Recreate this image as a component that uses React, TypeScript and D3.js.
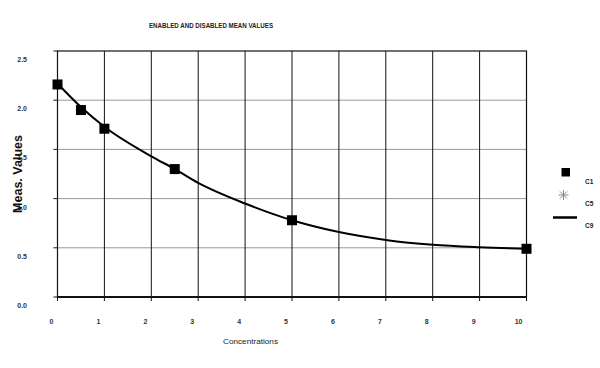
import React from 'react';
import * as d3 from 'd3';

// C1 measured points
const c1X = [0, 0.5, 1, 2.5, 5, 10];
const c1Y = [2.16, 1.9, 1.71, 1.3, 0.78, 0.49];

// C9 fitted curve
const c9X = [0, 0.5, 1, 2, 2.5, 3, 4, 5, 6, 7, 8, 9, 10];
const c9Y = [2.17, 1.93, 1.73, 1.43, 1.3, 1.16, 0.95, 0.78, 0.66, 0.58, 0.53, 0.505, 0.49];

const xTicks = [0, 1, 2, 3, 4, 5, 6, 7, 8, 9, 10];
const yTicks = [0, 0.5, 1, 1.5, 2, 2.5];
const legendItems = ['C1', 'C5', 'C9'];

const W = 600;
const H = 368;
const margin = { top: 51, right: 73.5, bottom: 71, left: 57.5 };
const font = 'Arial, "Liberation Sans", sans-serif';

const App = () => {
    const x = d3.scaleLinear().domain([0, 10]).range([margin.left, W - margin.right]);
    const y = d3.scaleLinear().domain([0, 2.5]).range([H - margin.bottom, margin.top]);

    const line = d3.line<number>()
        .x((d, i) => x(c9X[i]))
        .y(d => y(d))
        .curve(d3.curveMonotoneX);

    const x0 = x(0), x1 = x(10), y0 = y(0), y1 = y(2.5);

    const asterisk = (cx: number, cy: number, r: number) =>
        [0, 45, 90, 135].map(a => {
            const rad = (a * Math.PI) / 180;
            return (
                <line key={a}
                    x1={cx - r * Math.cos(rad)} y1={cy - r * Math.sin(rad)}
                    x2={cx + r * Math.cos(rad)} y2={cy + r * Math.sin(rad)}
                    stroke="#888" strokeWidth={1} />
            );
        });

    return (
        <svg width={W} height={H} style={{ position: 'absolute', left: 0, top: 0, background: '#fff' }}
            fontFamily={font}>
            <rect width={W} height={H} fill="#fff" />

            {/* horizontal grid */}
            {yTicks.filter(t => t > 0 && t < 2.5).map(t => (
                <line key={'h' + t} x1={x0} x2={x1} y1={y(t)} y2={y(t)} stroke="#999" strokeWidth={1} />
            ))}
            {/* vertical grid */}
            {xTicks.filter(t => t > 0 && t < 10).map(t => (
                <line key={'v' + t} x1={x(t)} x2={x(t)} y1={y1} y2={y0} stroke="#111" strokeWidth={1} />
            ))}

            {/* frame */}
            <rect x={x0} y={y1} width={x1 - x0} height={y0 - y1} fill="none" stroke="#111" strokeWidth={1.2} />
            <line x1={x0} x2={x1} y1={y0} y2={y0} stroke="#111" strokeWidth={2} />

            {/* y ticks */}
            {yTicks.map(t => (
                <g key={'yt' + t}>
                    <line x1={x0 - 4} x2={x0} y1={y(t)} y2={y(t)} stroke="#111" strokeWidth={1} />
                    <text x={27} y={y(t) + 11} textAnchor="end" fontSize={7} fontWeight="bold" fill="#333">
                        {d3.format('.1f')(t)}
                    </text>
                </g>
            ))}
            {/* x ticks */}
            {xTicks.map(t => (
                <g key={'xt' + t}>
                    <line x1={x(t)} x2={x(t)} y1={y0} y2={y0 + 4} stroke="#111" strokeWidth={1} />
                    <text x={x(t) - 4} y={y0 + 27} textAnchor="end" fontSize={7} fontWeight="bold" fill="#333">
                        {t}
                    </text>
                </g>
            ))}

            {/* C9 curve */}
            <path d={line(c9Y) || ''} fill="none" stroke="#000" strokeWidth={2} />

            {/* C1 squares */}
            {c1X.map((v, i) => (
                <rect key={'c1' + i} x={x(v) - 5} y={y(c1Y[i]) - 5} width={10} height={10} fill="#000" />
            ))}

            {/* titles */}
            <text x={149} y={28} fontSize={6.5} fontWeight="bold" fill="#222" textLength={124}
                lengthAdjust="spacingAndGlyphs">ENABLED AND DISABLED MEAN VALUES</text>
            <text x={250.5} y={344} textAnchor="middle" fontSize={7.5} fill="#222" textLength={55}
                lengthAdjust="spacingAndGlyphs">Concentrations</text>
            <text transform="translate(21.5,174) rotate(-90)" textAnchor="middle" fontSize={12.5}
                fontWeight="bold" fill="#111">Meas. Values</text>

            {/* legend */}
            <rect x={561.5} y={168} width={8.5} height={8.5} fill="#000" />
            {asterisk(563.5, 195, 5)}
            <line x1={553} x2={577} y1={217.5} y2={217.5} stroke="#000" strokeWidth={2.5} />
            {legendItems.map((n, i) => (
                <text key={n} x={585} y={184 + i * 22.2} fontSize={6.5} fontWeight="bold" fill="#222">{n}</text>
            ))}
        </svg>
    );
};

export default App;
